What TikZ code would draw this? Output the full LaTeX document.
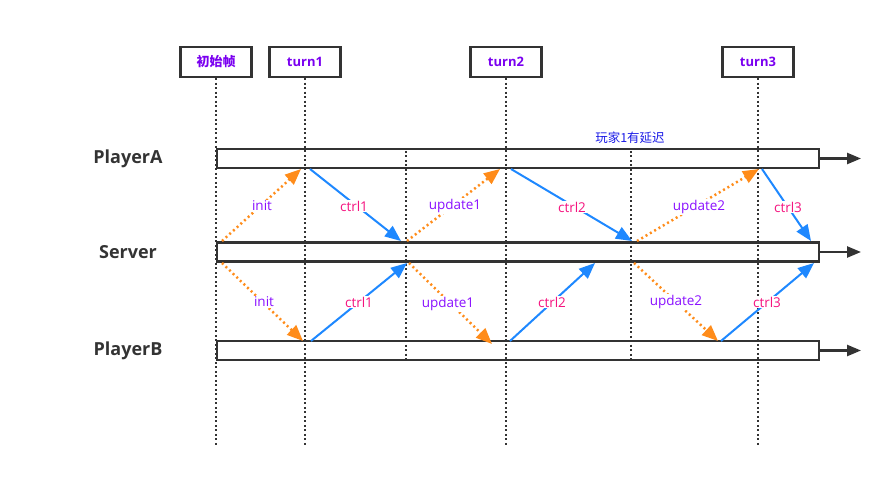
\documentclass[tikz,border=0pt]{standalone}
\usepackage{fontspec}
\setmainfont{Open Sans}
\newfontfamily\cjk{Noto Sans CJK SC}
\usepackage{tikz}
\usetikzlibrary{arrows.meta}

\definecolor{lineC}{HTML}{333333}
\definecolor{headC}{HTML}{7A00F0}
\definecolor{orangeC}{HTML}{FF8C1A}
\definecolor{blueC}{HTML}{1E88FF}
\definecolor{purpleC}{HTML}{8A10FF}
\definecolor{pinkC}{HTML}{F5137F}
\definecolor{noteC}{HTML}{1A1AE6}

\tikzset{
	headbox/.style={rectangle, draw=lineC, line width=2.5pt, minimum width=71pt, minimum height=30pt, inner sep=0pt, text=headC, font=\bfseries\fontsize{13}{15}\selectfont},
	bar/.style={rectangle, draw=lineC, line width=2.3pt, minimum width=602pt, minimum height=19pt, inner sep=0pt},
	who/.style={text=lineC, font=\bfseries\fontsize{18}{21}\selectfont},
	grid/.style={draw=lineC, line width=2pt, dash pattern=on 2pt off 2.5pt},
	send/.style={draw=orangeC, line width=2.5pt, dash pattern=on 2pt off 3pt, -{Triangle[length=16pt,width=13pt]}},
	ctrl/.style={draw=blueC, line width=2pt, -{Triangle[length=16pt,width=13pt]}},
	tick/.style={draw=lineC, line width=2.5pt, -{Triangle[length=14pt,width=11pt]}},
	msg/.style={fill=white, inner sep=1pt, font=\fontsize{13.5}{16}\selectfont}
}

\begin{document}
\begin{tikzpicture}[x=1pt, y=-1pt]
	\useasboundingbox (0,0) rectangle (890,478);
	% frame heads
	\node[headbox] at (216,62)(hInit){\cjk\bfseries 初始帧};
	\node[headbox] at (305,62)(hTurn1){turn1};
	\node[headbox] at (506,62)(hTurn2){turn2};
	\node[headbox] at (758,62)(hTurn3){turn3};
	\coordinate (gInit) at (216,445);
	\coordinate (gTurn1) at (305,445);
	\coordinate (gTurn2) at (506,445);
	\coordinate (gTurn3) at (758,445);
	\coordinate (gMidTop1) at (406,151);
	\coordinate (gMidBot1) at (406,361);
	\coordinate (gMidTop2) at (631,151);
	\coordinate (gMidBot2) at (631,362);
	\draw[grid](hInit) -- (gInit);
	\draw[grid](hTurn1) -- (gTurn1);
	\draw[grid](hTurn2) -- (gTurn2);
	\draw[grid](hTurn3) -- (gTurn3);
	\draw[grid](gMidTop1) -- (gMidBot1);
	\draw[grid](gMidTop2) -- (gMidBot2);
	% players and server
	\node[who] at (128,159)(nameA){PlayerA};
	\node[who] at (128,252)(nameS){Server};
	\node[who] at (128,351)(nameB){PlayerB};
	\node[bar] at (518,158.5)(barA){};
	\node[bar] at (518,252)(barS){};
	\node[bar] at (518,350.5)(barB){};
	\coordinate (endA) at (861,158.5);
	\coordinate (endS) at (861,252);
	\coordinate (endB) at (861,350.5);
	\draw[tick](barA.east) -- (endA);
	\draw[tick](barS.east) -- (endS);
	\draw[tick](barB.east) -- (endB);
	\node[text=noteC, font=\cjk\fontsize{12.5}{14}\selectfont] at (630,138)(delay){玩家1有延迟};
	% server <-> PlayerA
	\coordinate (svA0) at (222,241);
	\coordinate (paIn0) at (301,169);
	\coordinate (paOut1) at (310,169);
	\coordinate (svA1) at (401,241);
	\coordinate (svA1u) at (407,241);
	\coordinate (paIn1) at (500,169);
	\coordinate (paOut2) at (511,169);
	\coordinate (svA2) at (632,241);
	\coordinate (svA2u) at (637,241);
	\coordinate (paIn2) at (759,169);
	\coordinate (paOut3) at (762,169);
	\coordinate (svA3) at (811,241);
	\draw[send](svA0) -- (paIn0);
	\draw[ctrl](paOut1) -- (svA1);
	\draw[send](svA1u) -- (paIn1);
	\draw[ctrl](paOut2) -- (svA2);
	\draw[send](svA2u) -- (paIn2);
	\draw[ctrl](paOut3) -- (svA3);
	% server <-> PlayerB
	\coordinate (svB0) at (222,263);
	\coordinate (pbIn0) at (303,341);
	\coordinate (pbOut1) at (311,341);
	\coordinate (svB1) at (407,263);
	\coordinate (svB1u) at (409,263);
	\coordinate (pbIn1) at (492,344);
	\coordinate (pbOut2) at (510,341);
	\coordinate (svB2) at (595,263);
	\coordinate (svB2u) at (634,263);
	\coordinate (pbIn2) at (718,341);
	\coordinate (pbOut3) at (721,341);
	\coordinate (svB3) at (814,263);
	\draw[send](svB0) -- (pbIn0);
	\draw[ctrl](pbOut1) -- (svB1);
	\draw[send](svB1u) -- (pbIn1);
	\draw[ctrl](pbOut2) -- (svB2);
	\draw[send](svB2u) -- (pbIn2);
	\draw[ctrl](pbOut3) -- (svB3);
	% message labels
	\node[msg, text=purpleC] at (262,206)(lInitA){init};
	\node[msg, text=pinkC] at (354,206)(lCtrl1A){ctrl1};
	\node[msg, text=purpleC] at (455,206)(lUpd1A){update1};
	\node[msg, text=pinkC] at (572,207)(lCtrl2A){ctrl2};
	\node[msg, text=purpleC] at (699,207)(lUpd2A){update2};
	\node[msg, text=pinkC] at (788,207)(lCtrl3A){ctrl3};
	\node[msg, text=purpleC] at (264,302)(lInitB){init};
	\node[msg, text=pinkC] at (359,302)(lCtrl1B){ctrl1};
	\node[msg, text=purpleC] at (448,304)(lUpd1B){update1};
	\node[msg, text=pinkC] at (552,302)(lCtrl2B){ctrl2};
	\node[msg, text=purpleC] at (676,302)(lUpd2B){update2};
	\node[msg, text=pinkC] at (767,302)(lCtrl3B){ctrl3};
\end{tikzpicture}
\end{document}
